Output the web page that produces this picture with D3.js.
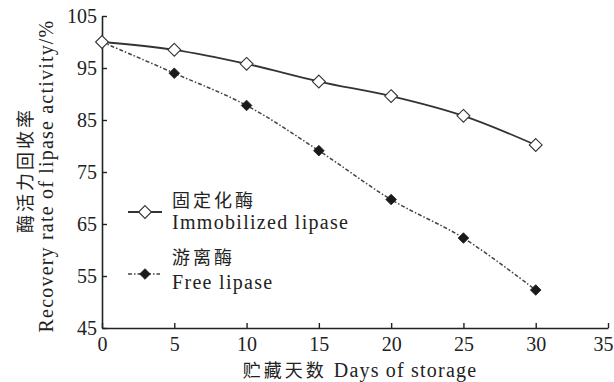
<!DOCTYPE html>
<html>
<head>
<meta charset="utf-8">
<script src="https://cdn.jsdelivr.net/npm/d3@7"></script>
<style>
body{margin:0;background:#fff;}
text{font-family:"Liberation Serif","Times New Roman",serif;fill:#222;}
.cjk{font-family:"Noto Sans CJK SC",sans-serif;}
</style>
</head>
<body>
<script>
var days = [0, 5, 10, 15, 20, 25, 30];
var immobilized = [100, 98.5, 95.8, 92.4, 89.6, 85.8, 80.2];
var free = [100, 94.0, 87.8, 79.1, 69.7, 62.3, 52.3];
var xTicks = [0, 5, 10, 15, 20, 25, 30, 35];
var yTicks = [45, 55, 65, 75, 85, 95, 105];

var W = 614, H = 382;
var margin = {top: 16, right: 6, bottom: 54, left: 102};
var width = W - margin.left - margin.right,
    height = H - margin.top - margin.bottom;

var svg = d3.select("body").append("svg")
    .attr("width", W).attr("height", H);
var g = svg.append("g")
    .attr("transform", "translate(" + margin.left + "," + margin.top + ")");

var x = d3.scaleLinear().domain([0, 35]).range([0, width]);
var y = d3.scaleLinear().domain([45, 105]).range([height, 0]);

// axes, ticks pointing inward
var xa = g.append("g").attr("transform", "translate(0," + height + ")")
    .call(d3.axisBottom(x).tickValues(xTicks).tickSizeInner(-5).tickSizeOuter(0).tickPadding(7));
var ya = g.append("g")
    .call(d3.axisLeft(y).tickValues(yTicks).tickSizeInner(-5).tickSizeOuter(0).tickPadding(5));
[xa, ya].forEach(function(a){
  a.select(".domain").attr("stroke", "#222").attr("stroke-width", 1.6);
  a.selectAll(".tick line").attr("stroke", "#222").attr("stroke-width", 1.4);
  a.selectAll(".tick text").attr("font-size", 20).attr("font-family", "Liberation Serif").attr("fill", "#222");
});
xa.selectAll(".tick text").attr("dy", "0.8em");
xa.selectAll(".tick text").filter(function(d){ return d === 35; }).attr("dx", "-5px");

var line = d3.line()
    .x(function(d, i){ return x(days[i]); })
    .y(function(d){ return y(d); })
    .curve(d3.curveCatmullRom);

g.append("path").datum(free)
    .attr("d", line).attr("fill", "none")
    .attr("stroke", "#444").attr("stroke-width", 1.5)
    .attr("stroke-dasharray", "4,2,1.5,2");
g.append("path").datum(immobilized)
    .attr("d", line).attr("fill", "none")
    .attr("stroke", "#333").attr("stroke-width", 1.8);

var openDiamond = d3.symbol().type(d3.symbolDiamond2).size(105);
var fillDiamond = d3.symbol().type(d3.symbolDiamond2).size(72);
g.selectAll(".free").data(free).enter().append("path")
    .attr("class", "free")
    .attr("d", fillDiamond)
    .attr("transform", function(d, i){ return "translate(" + x(days[i]) + "," + y(d) + ")"; })
    .attr("fill", "#1a1a1a").attr("stroke", "#1a1a1a").attr("stroke-width", 0.8);
g.selectAll(".imm").data(immobilized).enter().append("path")
    .attr("class", "imm")
    .attr("d", openDiamond)
    .attr("transform", function(d, i){ return "translate(" + x(days[i]) + "," + y(d) + ")"; })
    .attr("fill", "#fff").attr("stroke", "#333").attr("stroke-width", 1.1);

// legend
var leg = svg.append("g");
leg.append("line").attr("x1", 128).attr("x2", 162).attr("y1", 212).attr("y2", 212)
    .attr("stroke", "#333").attr("stroke-width", 1.8);
leg.append("path").attr("d", openDiamond).attr("transform", "translate(145,212)")
    .attr("fill", "#fff").attr("stroke", "#333").attr("stroke-width", 1.1);
leg.append("text").attr("class", "cjk").attr("x", 172).attr("y", 207)
    .attr("font-size", 18).attr("letter-spacing", 3).text("固定化酶");
leg.append("text").attr("x", 172).attr("y", 229)
    .attr("font-size", 20).attr("letter-spacing", 1.3).text("Immobilized lipase");

leg.append("line").attr("x1", 128).attr("x2", 160).attr("y1", 274).attr("y2", 274)
    .attr("stroke", "#444").attr("stroke-width", 1.5).attr("stroke-dasharray", "4,2,1.5,2");
leg.append("path").attr("d", fillDiamond).attr("transform", "translate(145,274)")
    .attr("fill", "#1a1a1a").attr("stroke", "#1a1a1a").attr("stroke-width", 0.8);
leg.append("text").attr("class", "cjk").attr("x", 172).attr("y", 264)
    .attr("font-size", 18).attr("letter-spacing", 3).text("游离酶");
leg.append("text").attr("x", 172).attr("y", 289)
    .attr("font-size", 20).attr("letter-spacing", 1.3).text("Free lipase");

// axis titles
var xt = svg.append("text").attr("x", 360).attr("y", 377).attr("text-anchor", "middle").attr("font-size", 20);
xt.append("tspan").attr("class", "cjk").attr("font-size", 18).attr("letter-spacing", 3).text("贮藏天数 ");
xt.append("tspan").attr("letter-spacing", 1.2).text("Days of storage");

svg.append("text").attr("class", "cjk")
    .attr("transform", "translate(32,170) rotate(-90)")
    .attr("text-anchor", "middle").attr("font-size", 18).attr("letter-spacing", 3).text("酶活力回收率");
svg.append("text")
    .attr("transform", "translate(53,176) rotate(-90)")
    .attr("text-anchor", "middle").attr("font-size", 20).attr("letter-spacing", 1.2).text("Recovery rate of lipase activity/%");
</script>
</body>
</html>
